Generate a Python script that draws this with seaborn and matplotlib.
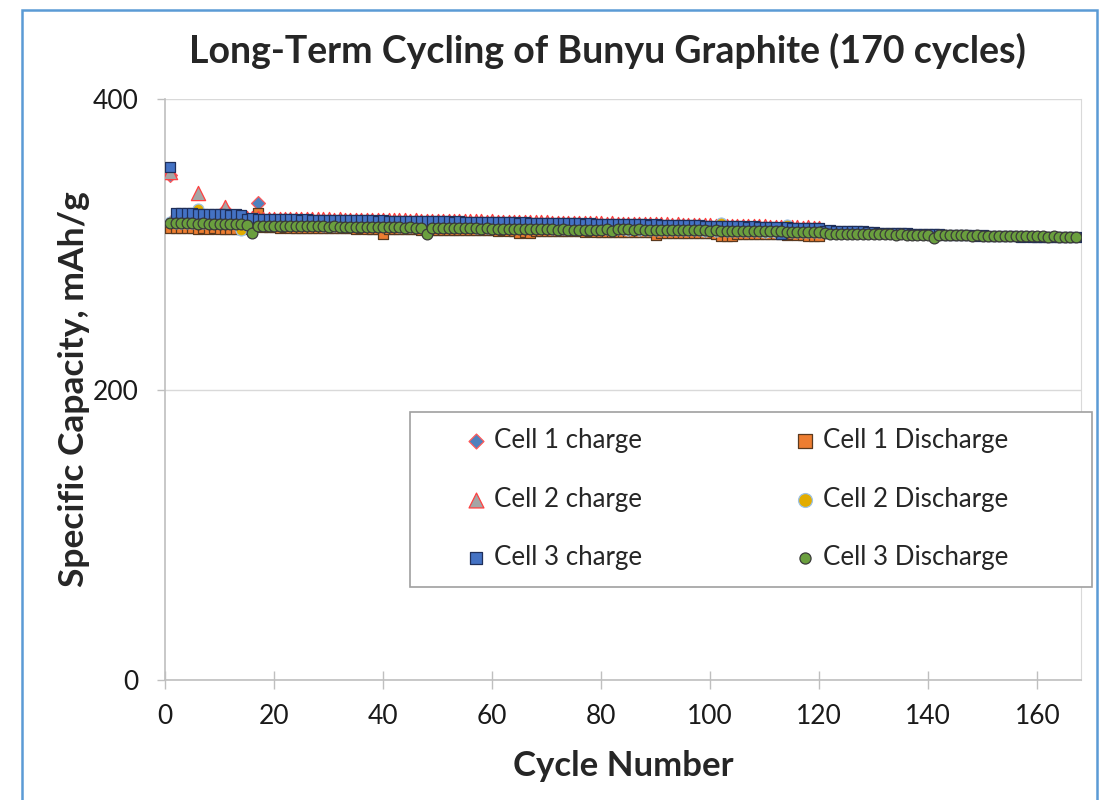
import numpy as np
import pandas as pd
import matplotlib
matplotlib.use("Agg")
import matplotlib.pyplot as plt
from matplotlib.patches import Rectangle
import seaborn as sns

# Specific capacity (mAh/g) per cycle
cell1_charge = [
    347.5, 318.8, 318.6, 318.7, 318.5, 318.6, 318.4, 318.5, 318.3, 318.4,
    323.8, 318.2, 318.3, 318.1, 315.8, 315.9, 328.3, 315.6, 315.5, 315.6,
    315.4, 315.5, 315.3, 315.4, 315.2, 315.3, 315.1, 315.2, 315.0, 315.1,
    314.9, 315.0, 314.8, 314.9, 314.7, 314.8, 314.6, 314.7, 314.5, 314.6,
    314.4, 314.5, 314.3, 314.4, 314.2, 314.3, 314.1, 314.2, 314.0, 314.1,
    313.9, 314.0, 313.8, 313.9, 313.7, 313.8, 313.6, 313.7, 313.5, 313.6,
    313.3, 313.4, 313.2, 313.3, 313.1, 313.2, 313.0, 313.1, 312.9, 313.0,
    312.7, 312.8, 312.6, 312.7, 312.5, 312.6, 312.4, 312.5, 312.3, 312.4,
    312.1, 312.2, 312.0, 312.1, 311.9, 312.0, 311.8, 311.9, 311.7, 311.8,
    311.5, 311.6, 311.4, 311.5, 311.3, 311.4, 311.2, 311.3, 311.1, 311.0,
    310.8, 310.9, 310.7, 310.8, 310.5, 310.6, 310.4, 310.5, 310.2, 310.3,
    310.0, 310.1, 309.9, 309.8, 309.6, 309.7, 309.4, 309.5, 309.2, 309.3,
]
cell1_discharge = [
    311.5, 311.2, 311.4, 311.0, 311.3, 310.8, 310.9, 310.7, 310.9, 310.6,
    310.8, 310.5, 310.7, 310.4, 311.5, 312.0, 321.2, 311.8, 311.6, 311.7,
    311.5, 311.6, 311.4, 311.5, 311.3, 311.4, 311.2, 311.3, 311.1, 311.2,
    311.0, 311.1, 310.9, 311.0, 310.8, 310.9, 310.7, 310.8, 310.6, 307.4,
    310.4, 310.5, 310.3, 310.4, 310.2, 310.3, 310.1, 310.2, 310.0, 310.1,
    309.9, 310.0, 309.8, 309.9, 309.7, 309.8, 309.6, 309.7, 309.5, 309.6,
    309.4, 309.5, 309.3, 309.4, 308.0, 308.1, 307.9, 309.3, 309.1, 309.2,
    309.0, 309.1, 308.9, 309.0, 308.8, 308.9, 308.7, 308.8, 308.6, 308.7,
    308.5, 308.6, 308.4, 308.5, 308.3, 308.4, 308.2, 308.3, 308.1, 306.6,
    307.9, 308.0, 307.8, 307.9, 307.7, 307.8, 307.6, 307.7, 307.5, 307.6,
    307.4, 305.8, 305.9, 305.7, 307.3, 307.1, 307.2, 307.0, 307.1, 306.9,
    307.0, 306.8, 306.9, 306.7, 306.8, 306.6, 306.7, 305.5, 305.6, 305.4,
]
cell2_charge = [
    349.5, 319.6, 319.5, 319.4, 319.4, 335.2, 319.2, 319.0, 319.1, 318.8,
    325.4, 318.6, 318.7, 318.4, 318.2, 318.0, 317.8, 317.7, 317.6, 317.7,
    317.5, 317.6, 317.4, 317.5, 317.3, 317.4, 317.2, 317.3, 317.1, 317.2,
    317.0, 317.1, 316.9, 317.0, 316.8, 316.9, 316.7, 316.8, 316.6, 316.7,
    316.5, 316.6, 316.4, 316.5, 316.3, 316.4, 316.2, 316.3, 316.1, 316.2,
    316.0, 316.1, 315.9, 316.0, 315.8, 315.9, 315.7, 315.8, 315.6, 315.7,
    315.4, 315.5, 315.3, 315.4, 315.2, 315.3, 315.1, 315.2, 315.0, 315.1,
    314.8, 314.9, 314.7, 314.8, 314.6, 314.7, 314.5, 314.6, 314.4, 314.5,
    314.2, 314.3, 314.1, 314.2, 314.0, 314.1, 313.9, 314.0, 313.8, 313.9,
    313.6, 313.7, 313.5, 313.6, 313.4, 313.5, 313.3, 313.4, 313.2, 313.1,
    312.9, 313.0, 312.8, 312.9, 312.6, 312.7, 312.5, 312.6, 312.3, 312.4,
    312.1, 312.2, 312.0, 311.9, 311.7, 311.8, 311.5, 311.6, 311.3, 311.4,
]
cell2_discharge = [
    315.2, 314.8, 314.9, 314.7, 314.8, 324.0, 314.5, 314.6, 314.4, 314.5,
    314.3, 314.4, 314.2, 309.6, 313.2, 313.8, 313.5, 313.6, 313.4, 313.5,
    313.3, 313.4, 313.2, 313.3, 313.1, 313.2, 313.0, 313.1, 312.9, 313.0,
    312.8, 312.9, 312.7, 312.8, 312.6, 312.7, 312.5, 312.6, 312.4, 312.5,
    312.3, 312.4, 312.2, 312.3, 312.1, 312.2, 312.0, 312.1, 311.9, 312.0,
    311.8, 311.9, 311.7, 311.8, 311.6, 311.7, 311.5, 311.6, 311.4, 311.5,
    311.3, 311.4, 311.2, 311.3, 311.1, 311.2, 311.0, 311.1, 310.9, 311.0,
    310.8, 310.9, 310.7, 310.8, 310.6, 310.7, 310.5, 310.6, 310.4, 310.5,
    310.3, 310.4, 310.2, 310.3, 310.1, 310.2, 310.0, 310.1, 309.9, 310.0,
    309.8, 309.9, 309.7, 309.8, 309.6, 309.7, 309.5, 309.6, 309.4, 309.5,
    309.3, 314.8, 309.2, 309.0, 309.1, 308.9, 309.0, 308.8, 308.9, 308.7,
    308.8, 308.6, 308.7, 313.5, 308.6, 308.4, 308.5, 308.3, 308.4, 308.2,
]
cell3_charge = [
    353.0, 321.5, 321.4, 321.2, 321.3, 321.0, 321.1, 320.8, 320.9, 320.6,
    320.7, 320.4, 320.5, 320.2, 317.6, 317.8, 317.4, 317.5, 317.3, 317.4,
    317.2, 317.3, 317.1, 317.2, 317.0, 317.1, 316.9, 317.0, 316.8, 316.9,
    316.7, 316.8, 316.6, 316.7, 316.5, 316.6, 316.4, 316.5, 316.3, 316.4,
    316.2, 316.3, 316.1, 316.2, 316.0, 316.1, 315.9, 316.0, 315.8, 315.9,
    315.7, 315.8, 315.6, 315.7, 315.5, 315.6, 315.4, 315.5, 315.3, 315.4,
    315.1, 315.2, 315.0, 315.1, 314.9, 315.0, 314.8, 314.9, 314.7, 314.8,
    314.5, 314.6, 314.4, 314.5, 314.3, 314.4, 314.2, 314.3, 314.1, 314.2,
    313.9, 314.0, 313.8, 313.9, 313.7, 313.8, 313.6, 313.7, 313.5, 313.6,
    313.3, 313.4, 313.2, 313.3, 313.1, 313.2, 313.0, 313.1, 312.9, 312.8,
    312.6, 312.7, 312.5, 312.6, 312.3, 312.4, 312.2, 312.3, 312.0, 312.1,
    311.8, 311.9, 307.4, 311.6, 311.4, 311.5, 311.2, 311.3, 311.0, 311.1,
    309.4, 309.5, 309.2, 309.3, 309.0, 309.1, 308.8, 308.9, 308.6, 308.7,
    307.9, 308.0, 307.7, 307.8, 307.5, 307.6, 307.3, 307.4, 307.1, 307.2,
    306.8, 306.9, 306.6, 306.7, 306.4, 306.5, 306.2, 306.3, 306.0, 306.1,
    305.8, 305.9, 305.6, 305.7, 305.4, 305.5, 305.3, 305.4, 305.2, 305.3,
    305.0, 305.1, 304.9, 305.0, 304.8, 304.9, 304.7,
]
cell3_discharge = [
    314.6, 314.4, 314.5, 314.3, 314.4, 314.2, 314.3, 314.1, 314.2, 314.0,
    314.1, 313.9, 313.8, 313.7, 313.2, 307.6, 312.4, 312.8, 312.9, 312.7,
    312.8, 312.6, 312.7, 312.5, 312.6, 312.4, 312.5, 312.3, 312.4, 312.2,
    312.3, 312.1, 312.2, 312.0, 312.1, 311.9, 312.0, 311.8, 311.9, 311.7,
    311.8, 311.6, 311.7, 311.5, 311.6, 311.4, 311.2, 307.2, 311.0, 311.3,
    311.2, 311.1, 311.2, 311.0, 311.1, 310.9, 311.0, 310.8, 310.9, 310.7,
    310.8, 310.6, 310.7, 310.5, 310.6, 310.4, 310.5, 310.3, 310.4, 310.2,
    310.3, 310.1, 310.2, 310.0, 310.1, 309.9, 310.0, 309.8, 309.9, 309.7,
    310.6, 309.0, 310.4, 310.2, 310.3, 310.1, 310.2, 310.0, 310.1, 309.9,
    310.0, 309.8, 309.9, 309.7, 309.8, 309.6, 309.7, 309.5, 309.6, 309.4,
    309.5, 309.3, 309.4, 309.2, 309.3, 309.1, 309.2, 309.0, 309.1, 308.9,
    309.0, 308.8, 308.9, 308.7, 308.4, 308.6, 308.5, 308.3, 308.4, 308.2,
    307.5, 307.3, 307.4, 307.2, 307.3, 307.1, 307.2, 307.0, 307.1, 306.9,
    307.0, 306.8, 306.9, 306.7, 306.8, 306.6, 306.7, 306.5, 306.6, 306.4,
    304.2, 306.3, 306.4, 306.2, 306.3, 306.1, 306.2, 306.0, 306.1, 305.9,
    306.0, 305.8, 305.9, 305.7, 305.8, 305.6, 305.7, 305.5, 305.6, 305.4,
    305.5, 305.3, 305.4, 305.2, 305.3, 305.1, 305.2,
]

x_ticks = [0, 20, 40, 60, 80, 100, 120, 140, 160]
y_ticks = [0, 200, 400]

# drawing order matches the original workbook (Cell 3 Discharge ends up on top)
series = [
    # label, values, marker, size, legend size, face, edge
    ("Cell 1 charge", cell1_charge, "D", 50, 58, "#4F81BD", "#FF5A5A"),
    ("Cell 1 Discharge", cell1_discharge, "s", 48, 100, "#ED7D31", "#5A3A20"),
    ("Cell 2 charge", cell2_charge, "^", 105, 115, "#A5A5A5", "#FF4040"),
    ("Cell 2 Discharge", cell2_discharge, "o", 62, 100, "#E2AC00", "#9DC3E6"),
    ("Cell 3 charge", cell3_charge, "s", 50, 86, "#4472C4", "#1F2F5A"),
    ("Cell 3 Discharge", cell3_discharge, "o", 60, 64, "#6A9F3E", "#3A3A3A"),
]

sns.set_style("white")
plt.rcParams["font.family"] = ["Lato", "DejaVu Sans"]

fig = plt.figure(figsize=(11.01, 8.0), dpi=100)
ax = fig.add_axes([0.1499, 0.15, 0.8319, 0.72625])

for label, vals, marker, size, _, face, edge in series:
    df = pd.DataFrame({"cycle": np.arange(1, len(vals) + 1), "cap": vals})
    sns.scatterplot(
        data=df, x="cycle", y="cap", ax=ax, marker=marker, s=size,
        color=face, edgecolor=edge, linewidth=0.9, label=label, zorder=3,
    )

ax.set_xlim(0, 168)
ax.set_ylim(0, 400)
ax.set_xticks(x_ticks)
ax.set_yticks(y_ticks)

grid_col = "#D9D9D9"
axis_col = "#BFBFBF"
ax.yaxis.grid(True, color=grid_col, linewidth=1.0)
ax.set_axisbelow(True)
for side in ["left", "bottom"]:
    ax.spines[side].set_color(axis_col)
    ax.spines[side].set_linewidth(1.2)
ax.spines["right"].set_color(grid_col)
ax.spines["top"].set_visible(False)

ax.tick_params(axis="x", direction="inout", length=13, width=1.0, color=axis_col,
               labelsize=19, pad=11, labelcolor="#1a1a1a", bottom=True)
ax.tick_params(axis="y", direction="out", length=6, width=1.0, color=axis_col,
               labelsize=19, pad=13, labelcolor="#1a1a1a", left=True)

ax.set_xlabel("Cycle Number", fontsize=25, fontweight="bold")
ax.set_ylabel("Specific Capacity, mAh/g", fontsize=25.5, fontweight="bold")
ax.xaxis.set_label_coords(0.5, -0.121)
ax.yaxis.set_label_coords(-0.082, 0.5)

fig.text(0.552, 0.937, "Long-Term Cycling of Bunyu Graphite (170 cycles)",
         ha="center", va="center", fontsize=27, fontweight="bold")

# legend: Excel fills it row-wise, matplotlib column-wise
h, l = ax.get_legend_handles_labels()
order = [0, 2, 4, 1, 3, 5]
ax.add_patch(Rectangle((410 / 1101, 1 - 587 / 800), 682 / 1101, 175 / 800,
                       transform=fig.transFigure, facecolor="white",
                       edgecolor="#A0A0A0", linewidth=1.2, zorder=4,
                       clip_on=False))
leg = ax.legend([h[i] for i in order], [l[i] for i in order], ncol=2,
                frameon=False, loc="center", fontsize=18.6,
                bbox_to_anchor=(736 / 1101, 1 - 499 / 800),
                bbox_transform=fig.transFigure, handlelength=1.0,
                handletextpad=0.2, columnspacing=5.8, labelspacing=1.3)
leg.set_zorder(5)
for handle, i in zip(leg.legend_handles, order):
    handle.set_sizes([series[i][4]])

# chart-area border (only the left and top edges are in frame)
fig.patches.append(Rectangle((22 / 1101, -0.1), 1075 / 1101, 1 - 10 / 800 + 0.1,
                             transform=fig.transFigure, facecolor="none",
                             edgecolor="#5B9BD5", linewidth=1.8))

fig.savefig("out.png", dpi=100)
